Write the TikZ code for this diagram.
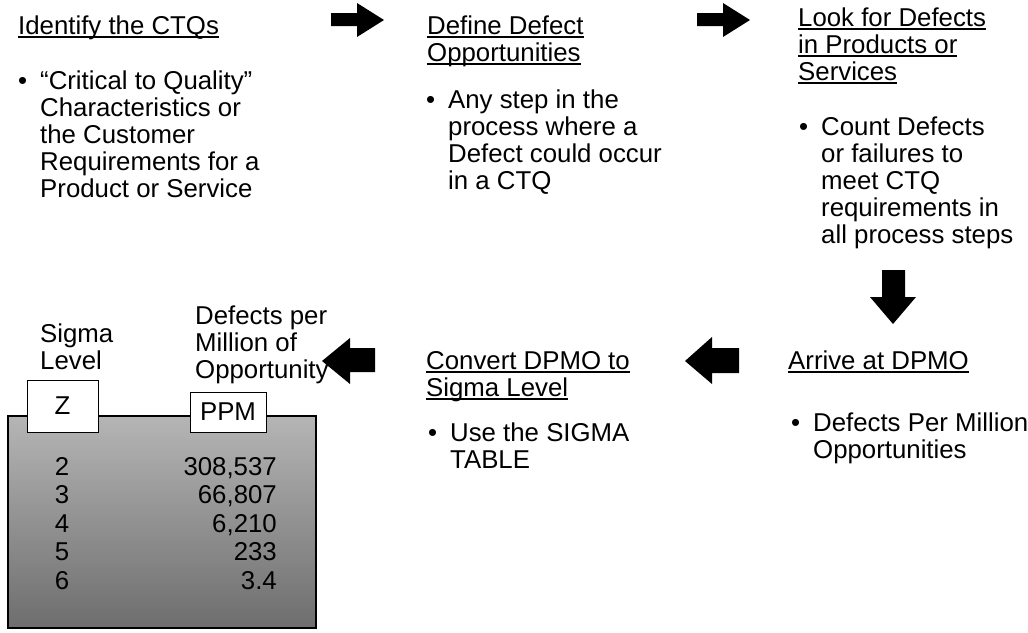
\documentclass[tikz,border=0pt]{standalone}
\usepackage{fontspec}
\setmainfont{Liberation Sans}
\newcommand\ulin[1]{\setbox0\hbox{#1}\rlap{\rule[-3.8pt]{\wd0}{1.8pt}}\box0}
\newcommand\bul{\llap{\textbullet\hspace{13pt}}}
\newcommand\lines[2][l]{\begin{tabular}[t]{@{}#1@{}}#2\end{tabular}}
\tikzset{
  txt/.style={anchor=base west, inner sep=0pt},
  hdr/.style={draw, fill=white, line width=1pt, inner sep=0pt},
  blockarrow/.style={fill=black},
}
\begin{document}
\begin{tikzpicture}[x=1pt,y=-1pt, font=\fontsize{25.8}{27}\selectfont, line join=miter]
	\useasboundingbox (0,0) rectangle (1028,632);
	% steps of the top row
	\node[txt] (ctq) at (18,34) {\lines{\ulin{Identify the CTQs}}};
	\node[txt] (ctqtxt) at (40,89) {\lines{\bul“Critical to Quality”\\ Characteristics or\\ the Customer\\ Requirements for a\\ Product or Service}};
	\node[txt] (opp) at (427,34) {\lines{\ulin{Define Defect}\\ \ulin{Opportunities}}};
	\node[txt] (opptxt) at (448,108) {\lines{\bul Any step in the\\ process where a\\ Defect could occur\\ in a CTQ}};
	\node[txt] (look) at (798,26) {\lines{\ulin{Look for Defects}\\ \ulin{in Products or}\\ \ulin{Services}}};
	\node[txt] (looktxt) at (821,135) {\lines{\bul Count Defects\\ or failures to\\ meet CTQ\\ requirements in\\ all process steps}};
	% steps of the bottom row
	\node[txt] (dpmo) at (788,369) {\lines{\ulin{Arrive at DPMO}}};
	\node[txt] (dpmotxt) at (813,431) {\lines{\bul Defects Per Million\\ Opportunities}};
	\node[txt] (conv) at (426,369) {\lines{\ulin{Convert DPMO to}\\ \ulin{Sigma Level}}};
	\node[txt] (convtxt) at (450,441) {\lines{\bul Use the SIGMA\\ TABLE}};
	\node[txt] (sigma) at (40,342) {\lines{Sigma\\ Level}};
	\node[txt] (ppmlbl) at (195,324) {\lines{Defects per\\ Million of\\ Opportunity}};
	% sigma table
	\shade[top color=black!29, bottom color=black!57, draw, line width=1.3pt] (8,416) rectangle (316,628);
	\node[hdr, minimum width=71pt, minimum height=52pt] (zhead) at (62.5,406) {Z};
	\node[hdr, minimum width=76pt, minimum height=40pt] (ppmhead) at (228,412) {PPM};
	{\renewcommand\arraystretch{1.06}
	\node[anchor=base, inner sep=0pt] (zvals) at (62,475) {\lines[c]{2\\ 3\\ 4\\ 5\\ 6}};
	\node[anchor=base east, inner sep=0pt] (ppmvals) at (277,475) {\lines[r]{308,537\\ 66,807\\ 6,210\\ 233\\ 3.4}};}
	% block arrows
	\fill[blockarrow] (331,13)--(357,13)--(357,3)--(384,20)--(357,37)--(357,26)--(331,26)--cycle;
	\fill[blockarrow] (697,13)--(723,13)--(723,3)--(750,20)--(723,37)--(723,26)--(697,26)--cycle;
	\fill[blockarrow] (882,270)--(905,270)--(905,297)--(916,297)--(893,324)--(870,297)--(882,297)--cycle;
	\fill[blockarrow] (685,361)--(712,337)--(712,348)--(739,348)--(739,373)--(712,373)--(712,384)--cycle;
	\fill[blockarrow] (322,361)--(350,338)--(350,348)--(375,348)--(375,372)--(350,372)--(350,384)--cycle;
\end{tikzpicture}
\end{document}
